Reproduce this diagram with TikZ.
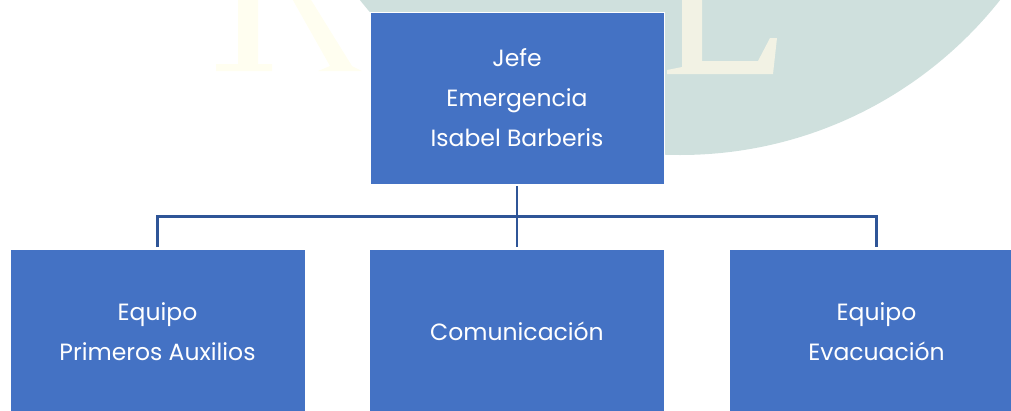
\documentclass[tikz,border=0pt]{standalone}
\usepackage{fontspec}
\setmainfont{Poppins}
\definecolor{boxblue}{HTML}{4472C4}
\definecolor{linkblue}{HTML}{2F5597}
\definecolor{wmteal}{HTML}{CFE0DD}
\definecolor{wmcream}{HTML}{FFFEF0}
\definecolor{wmcreamb}{HTML}{F2F2E4}
\tikzset{
  orgbox/.style={rectangle, fill=boxblue, draw=white, line width=0.8pt,
    text=white, align=center, font=\fontsize{23.5}{40}\selectfont,
    inner sep=0pt},
  topbox/.style={orgbox, minimum width=294pt, minimum height=172pt},
  childbox/.style={orgbox, minimum width=295pt, minimum height=165pt},
  conn/.style={draw=linkblue, line width=2.2pt}
}
\begin{document}
\begin{tikzpicture}[x=1pt, y=-1pt]
\useasboundingbox (0,0) rectangle (1011,410);
\clip (0,0) rectangle (1011,410);
% faint watermark (background emblem)
\fill[wmteal] (680,-253) circle (408);
% letter shapes of the emblem
\draw[wmcream, line width=9pt] (58,-10) arc[start angle=180, end angle=320, x radius=62, y radius=80];
\fill[wmcream] (238,-5) rectangle (258,66) (216,64) rectangle (272,71);
\fill[wmcream] (290,-5) -- (308,-5) -- (352,66) -- (362,71) -- (318,71) -- (330,66) -- cycle;
\fill[wmcreamb] (682,-2) -- (702,-2) -- (702,61) -- (758,61) -- (770,38) -- (777,38)
  -- (773,74) -- (667,74) -- (667,70) -- (682,67) -- cycle;
% boxes
\node[topbox] (jefe) at (517,98) {Jefe\\Emergencia\\Isabel Barberis};
\node[childbox] (aux) at (157.5,331.5) {Equipo\\Primeros Auxilios};
\node[childbox] (com) at (517,331.5) {Comunicación};
\node[childbox] (eva) at (876.5,331.5) {Equipo\\Evacuación};
% connectors
\coordinate (busL) at (157.5,216.5);
\coordinate (busR) at (876.5,216.5);
\draw[conn, shorten <=1.5pt, shorten >=1.5pt] (jefe.south) -- (com.north);
\draw[conn, shorten <=1.5pt, shorten >=1.5pt] (aux.north) -- (busL) -- (busR) -- (eva.north);
\end{tikzpicture}
\end{document}
